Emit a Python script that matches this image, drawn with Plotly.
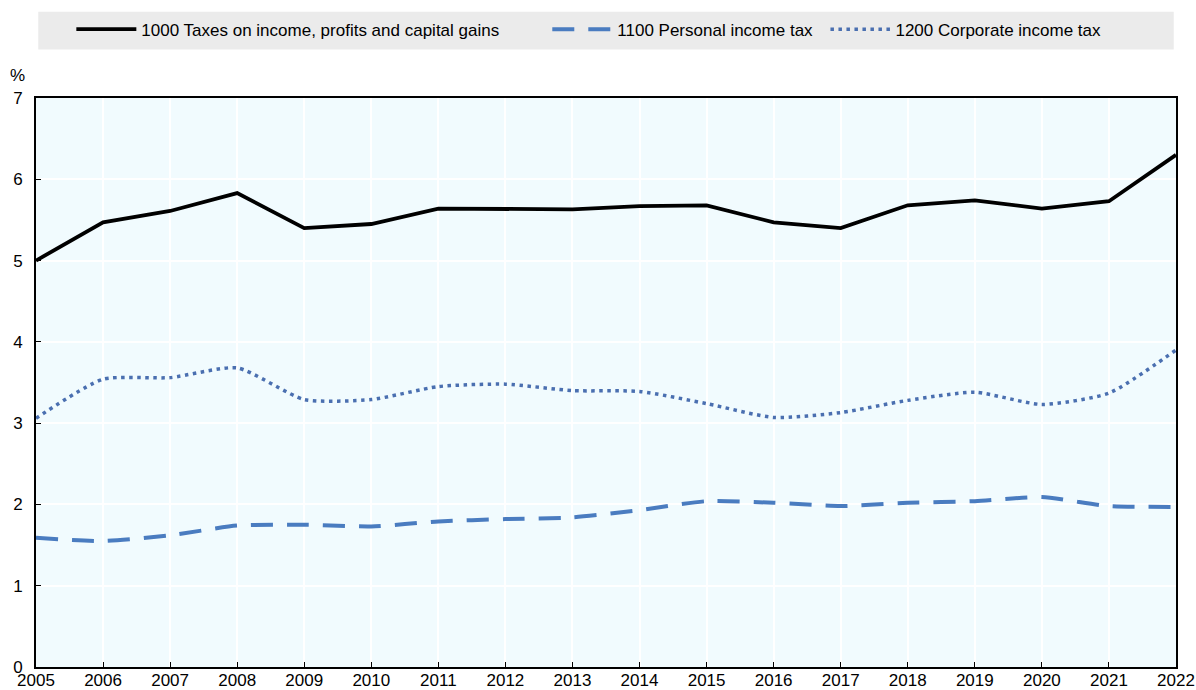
import plotly.graph_objects as go

years = list(range(2005, 2023))
total_income = [5.00, 5.47, 5.61, 5.83, 5.40, 5.45, 5.64, 5.64, 5.63, 5.67, 5.68, 5.47, 5.40, 5.68, 5.74, 5.64, 5.73, 6.30]
personal_income = [1.59, 1.55, 1.62, 1.74, 1.75, 1.73, 1.79, 1.82, 1.84, 1.93, 2.04, 2.02, 1.98, 2.02, 2.04, 2.09, 1.98, 1.97]
corporate_income = [3.06, 3.54, 3.56, 3.68, 3.29, 3.29, 3.45, 3.48, 3.40, 3.39, 3.24, 3.07, 3.13, 3.28, 3.38, 3.23, 3.37, 3.90]
series_names = ["1000 Taxes on income, profits and capital gains",
                "1100 Personal income tax",
                "1200 Corporate income tax"]
y_ticks = list(range(0, 8))

FONT = "Liberation Sans, Arial, sans-serif"
FS = 17
TOP, BOT = 93, 667
H = BOT - TOP

fig = go.Figure()
fig.add_trace(go.Scatter(x=years, y=total_income, mode="lines", name=series_names[0], showlegend=True,
                         line=dict(color="#000000", width=3.8), legend="legend"))
fig.add_trace(go.Scatter(x=years, y=personal_income, mode="lines", name=series_names[1], showlegend=True,
                         line=dict(color="#4a7cc0", width=4, dash="22px,14px", shape="spline", smoothing=0.6),
                         legend="legend2"))
fig.add_trace(go.Scatter(x=years, y=corporate_income, mode="lines", name=series_names[2], showlegend=True,
                         line=dict(color="#4a6fb0", width=3.5, dash="3.5px,4.5px", shape="spline", smoothing=0.6),
                         legend="legend3"))

leg_common = dict(orientation="h", yanchor="middle", xanchor="left", y=(BOT - 24) / H,
                  bgcolor="rgba(0,0,0,0)", font=dict(family=FONT, size=FS, color="#000"),
                  itemwidth=60)

fig.update_layout(
    width=1196, height=690,
    margin=dict(l=36, r=20, t=TOP, b=690 - BOT),
    showlegend=True,
    paper_bgcolor="white",
    plot_bgcolor="#f1fbfe",
    font=dict(family=FONT, size=FS, color="#000"),
    legend=dict(x=0.031, **leg_common),
    legend2=dict(x=0.4485, **leg_common),
    legend3=dict(x=0.6925, **leg_common),
    xaxis=dict(range=[2005, 2022], tickmode="array", tickvals=years, ticktext=[str(y) for y in years],
               ticks="inside", ticklen=5, tickcolor="#000", showgrid=True, gridcolor="white", gridwidth=1.5,
               showline=True, linecolor="#000", linewidth=2, mirror=True, zeroline=False, automargin=False,
               ticklabelstandoff=-3,
               tickfont=dict(family=FONT, size=FS, color="#000")),
    yaxis=dict(range=[0, 7], tickmode="array", tickvals=y_ticks, ticks="inside", ticklen=5, tickcolor="#000",
               showgrid=True, gridcolor="white", gridwidth=1.5, automargin=False, ticklabelstandoff=8,
               showline=True, linecolor="#000", linewidth=2, mirror=True, zeroline=False,
               tickfont=dict(family=FONT, size=FS, color="#000")),
    shapes=[dict(type="rect", xref="paper", yref="paper", x0=0.002, x1=0.998,
                 y0=(BOT - 44) / H, y1=(BOT - 6) / H, fillcolor="#ebebeb", line=dict(width=0), layer="below")],
    annotations=[dict(text="%", xref="paper", yref="paper", x=-0.016, y=(BOT - 70) / H,
                      xanchor="center", yanchor="middle", showarrow=False,
                      font=dict(family=FONT, size=FS, color="#000"))],
)

fig.write_html("out.html", config={"displayModeBar": False},
               post_script="document.body.style.margin='0';document.body.style.overflow='hidden';")
